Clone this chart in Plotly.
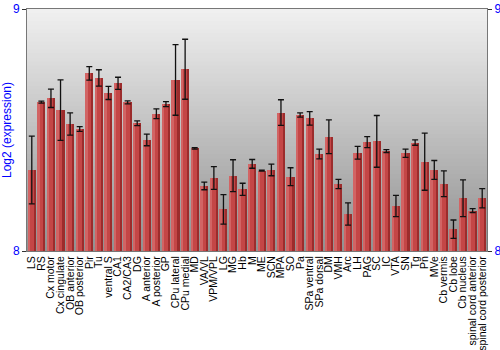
import plotly.graph_objects as go

categories = ["LS", "RS", "Cx motor", "Cx cingulate", "OB anterior", "OB posterior", "Pir", "Tu",
              "ventral S", "CA1", "CA2/CA3", "DG", "A anterior", "A posterior", "GP", "CPu lateral",
              "CPu medial", "MD", "VA/VL", "VPM/VPL", "LG", "MG", "Hb", "M", "ME", "SCN", "MPA", "SO",
              "Pa", "SPa ventral", "SPa dorsal", "DM", "VMH", "Arc", "LH", "PAG", "SC", "IC", "VTA",
              "SN", "Tg", "Pn", "MVe", "Cb vermis", "Cb lobe", "Cb nucleus", "spinal cord anterior",
              "spinal cord posterior"]

values = [8.335, 8.615, 8.631, 8.582, 8.525, 8.504, 8.734, 8.715,
          8.653, 8.693, 8.614, 8.528, 8.459, 8.567, 8.607, 8.707,
          8.751, 8.424, 8.269, 8.302, 8.172, 8.311, 8.255, 8.36, 8.332, 8.335, 8.572, 8.307,
          8.562, 8.548, 8.401, 8.472, 8.277, 8.153, 8.406, 8.45, 8.453, 8.413, 8.186,
          8.404, 8.448, 8.369, 8.335, 8.278, 8.09, 8.218, 8.167,
          8.218]

errors = [0.14, 0.004, 0.038, 0.125, 0.046, 0.01, 0.028, 0.034,
          0.027, 0.025, 0.006, 0.01, 0.024, 0.02, 0.01, 0.146,
          0.124, 0.003, 0.016, 0.047, 0.061, 0.066, 0.025, 0.018, 0.002, 0.024, 0.053, 0.037,
          0.009, 0.028, 0.02, 0.07, 0.019, 0.046, 0.026, 0.023, 0.107, 0.006, 0.044,
          0.017, 0.011, 0.118, 0.039, 0.053, 0.038, 0.076, 0.008,
          0.04]

y_range = [8, 9]
y_ticks = [8, 9]

fig = go.Figure()

heights = [v - y_range[0] for v in values]
# base (darker) bar
fig.add_trace(go.Bar(
    x=categories, y=heights, base=y_range[0],
    width=0.84, marker=dict(color="#9c2c2c", line=dict(width=0)),
    hoverinfo="skip", showlegend=False))
# lighter body
fig.add_trace(go.Bar(
    x=categories, y=heights, base=y_range[0],
    width=0.62, offset=-0.42,
    marker=dict(color="#c44646", line=dict(width=0)),
    hoverinfo="skip", showlegend=False))
# highlight strip
fig.add_trace(go.Bar(
    x=categories, y=heights, base=y_range[0],
    width=0.2, offset=-0.38,
    marker=dict(color="#d26464", line=dict(width=0)),
    hoverinfo="skip", showlegend=False))
# error bars
fig.add_trace(go.Scatter(
    x=categories, y=values, mode="markers",
    marker=dict(size=0.1, color="rgba(0,0,0,0)"),
    error_y=dict(type="data", array=errors, visible=True, color="#111111", thickness=1.3, width=3),
    showlegend=False, hoverinfo="skip"))
# invisible trace on right axis
fig.add_trace(go.Scatter(x=[categories[0]], y=[y_range[0]], yaxis="y2", mode="markers",
                         marker=dict(opacity=0), showlegend=False, hoverinfo="skip"))

# background gradient strips (overlapping to avoid seams)
shapes = []
n = 60
top = (240, 240, 240)
bot = (145, 145, 145)
for i in range(n):
    t = i / (n - 1)
    c = tuple(int(round(top[k] + (bot[k] - top[k]) * t)) for k in range(3))
    y1 = 1 - i / n
    y0 = max(0, 1 - (i + 1) / n - 0.01)
    shapes.append(dict(type="rect", xref="paper", yref="paper",
                       x0=0, x1=1, y0=y0, y1=y1,
                       fillcolor="rgb(%d,%d,%d)" % c, line=dict(width=0), layer="below"))

fig.update_layout(
    width=500, height=350,
    margin=dict(l=27, r=13, t=9, b=99),
    paper_bgcolor="white", plot_bgcolor="rgba(0,0,0,0)",
    barmode="overlay", bargap=0,
    shapes=shapes,
    font=dict(family="Liberation Sans, Arial, sans-serif", size=10.5, color="black"),
    xaxis=dict(type="category", range=[-0.5, len(categories) - 0.5], tickangle=-90,
               tickmode="array", tickvals=categories, ticktext=categories,
               automargin=False,
               showgrid=False, ticks="", tickfont=dict(size=10.5, color="black"),
               showline=True, linecolor="#777777", linewidth=1, mirror=True),
    yaxis=dict(range=y_range, tickvals=y_ticks, showgrid=False, zeroline=False,
               automargin=False,
               ticks="outside", ticklen=4, tickcolor="#333333",
               tickfont=dict(size=12, color="blue"),
               title=dict(text="Log2 (expression)", font=dict(size=12, color="blue"), standoff=2),
               showline=True, linecolor="#777777", linewidth=1),
    yaxis2=dict(range=y_range, tickvals=y_ticks, overlaying="y", side="right",
                automargin=False,
                showgrid=False, zeroline=False, ticks="outside", ticklen=4, tickcolor="#333333",
                tickfont=dict(size=12, color="blue"),
                showline=True, linecolor="#777777", linewidth=1),
)

fig.write_html("out.html")
